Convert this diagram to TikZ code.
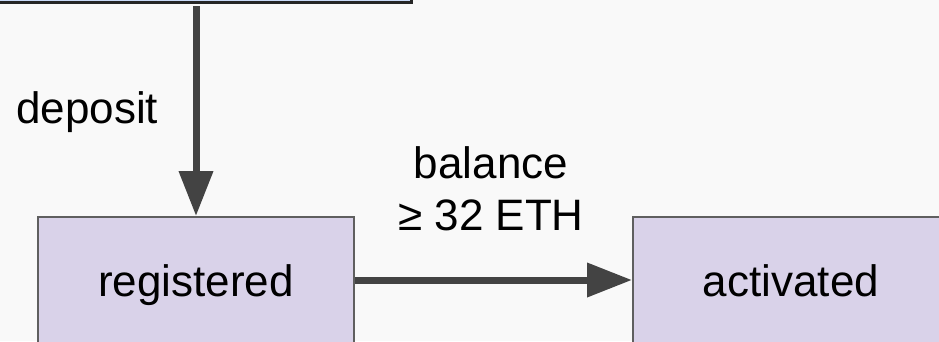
\documentclass[tikz,border=0pt]{standalone}
\usepackage{fontspec}
\setmainfont{Liberation Sans}
\usetikzlibrary{arrows.meta}
\definecolor{bg}{HTML}{F9F9F9}
\definecolor{srcfill}{HTML}{C9DAF8}
\definecolor{statefill}{HTML}{D9D2E9}
\definecolor{stateline}{HTML}{5F5F5F}
\definecolor{arrowcol}{HTML}{434343}
\tikzset{
  x=1pt, y=-1pt,
  lbl/.style={font=\fontsize{44}{52}\selectfont, text=black, inner sep=0pt},
  statebox/.style={draw=stateline, line width=2pt, fill=statefill,
    minimum width=316pt, minimum height=126pt, inner sep=0pt,
    text height=40pt, text depth=8pt, font=\fontsize{44}{52}\selectfont},
  srcbox/.style={draw=black!85, line width=3pt, fill=srcfill,
    minimum width=460pt, minimum height=80pt},
  conn/.style={draw=arrowcol, line width=7pt,
    -{Triangle[length=45pt, width=33pt]}},
}
\begin{document}
\begin{tikzpicture}
  \fill[bg] (0,0) rectangle (939,341);
  \useasboundingbox (0,0) rectangle (939,341);

  % source box along the top edge
  \node[srcbox, anchor=south east] (source) at (413,4) {};

  % states
  \node[statebox, anchor=north west] (registered) at (37,216) {registered};
  \node[statebox, anchor=north west] (activated) at (632,216) {activated};

  % transitions
  \draw[conn] ([yshift=-2pt]registered.north |- source.south) -- (registered.north);
  \draw[conn] (registered.east) -- (activated.west);

  % transition labels
  \node[lbl, anchor=base west] (deplbl) at (16,123) {deposit};
  \node[lbl, anchor=base, align=center] (ballbl) at (491,230) {balance\\≥ 32 ETH};
\end{tikzpicture}
\end{document}
